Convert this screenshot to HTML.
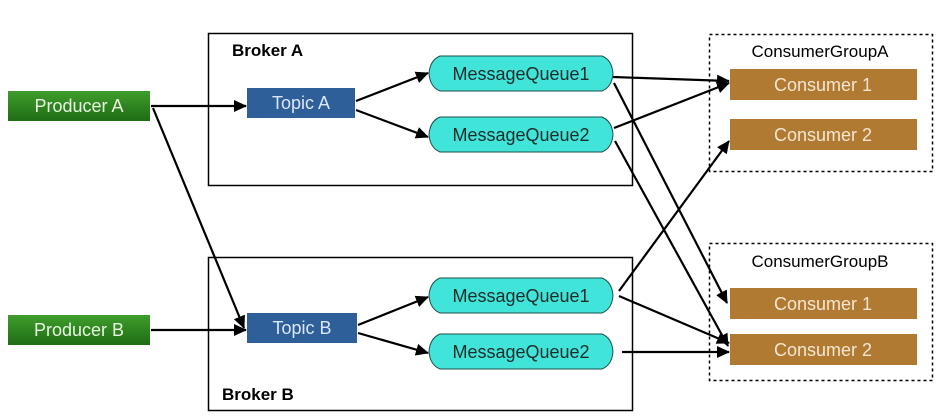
<!DOCTYPE html>
<html><head><meta charset="utf-8"><style>
html,body{margin:0;padding:0;background:#fff;}
svg{display:block;font-family:"Liberation Sans",sans-serif;}
</style></head><body>
<svg width="940" height="420" viewBox="0 0 940 420" xmlns="http://www.w3.org/2000/svg">
<defs>
<marker id="a" markerWidth="13" markerHeight="12" refX="12" refY="6" orient="auto" markerUnits="userSpaceOnUse">
<path d="M0,0 L13,6 L0,12 z" fill="#000"/></marker>
<linearGradient id="g" x1="0" y1="0" x2="0" y2="1"><stop offset="0" stop-color="#3f9e2c"/><stop offset="1" stop-color="#1f6c15"/></linearGradient>
</defs>
<rect x="208.5" y="33.5" width="424" height="152" fill="none" stroke="#000" stroke-width="1.5"/>
<rect x="208.5" y="257.5" width="424" height="153" fill="none" stroke="#000" stroke-width="1.5"/>
<text x="232" y="56" font-size="17" font-weight="bold">Broker A</text>
<text x="222" y="400" font-size="17" font-weight="bold">Broker B</text>
<rect x="709.5" y="34.5" width="223" height="137" fill="none" stroke="#000" stroke-width="1.5" stroke-dasharray="3,3"/>
<rect x="709.5" y="243.5" width="223" height="137" fill="none" stroke="#000" stroke-width="1.5" stroke-dasharray="3,3"/>
<text x="820" y="57" font-size="17" text-anchor="middle">ConsumerGroupA</text>
<text x="820" y="267" font-size="17" text-anchor="middle">ConsumerGroupB</text>
<rect x="8" y="91" width="142" height="30" fill="url(#g)"/>
<text x="79" y="112" font-size="18" fill="#e8f5e0" text-anchor="middle">Producer A</text>
<rect x="8" y="315" width="142" height="30" fill="url(#g)"/>
<text x="79" y="336" font-size="18" fill="#e8f5e0" text-anchor="middle">Producer B</text>
<rect x="247" y="88" width="108" height="30" fill="#2f5f98"/>
<text x="301" y="109" font-size="18" fill="#dbe6f5" text-anchor="middle">Topic A</text>
<rect x="247" y="313" width="110" height="30" fill="#2f5f98"/>
<text x="302" y="334" font-size="18" fill="#dbe6f5" text-anchor="middle">Topic B</text>
<g fill="#40e4d8" stroke="#1f4f4a" stroke-width="1">
<path d="M440,56 H602 Q612,60 613,73.5 Q612,87 602,91 H440 Q430,87 429,73.5 Q430,60 440,56 Z"/>
<path d="M440,117 H602 Q612,121 613,134.5 Q612,148 602,152 H440 Q430,148 429,134.5 Q430,121 440,117 Z"/>
<path d="M440,278 H602 Q612,282 613,295.5 Q612,309 602,313 H440 Q430,309 429,295.5 Q430,282 440,278 Z"/>
<path d="M440,334 H602 Q612,338 613,351.5 Q612,365 602,369 H440 Q430,365 429,351.5 Q430,338 440,334 Z"/>
</g>
<g font-size="18" fill="#1c2b2a" text-anchor="middle">
<text x="521" y="80">MessageQueue1</text>
<text x="521" y="141">MessageQueue2</text>
<text x="521" y="302">MessageQueue1</text>
<text x="521" y="358">MessageQueue2</text>
</g>
<g fill="#b07a32">
<rect x="730" y="69" width="187" height="31"/>
<rect x="730" y="119" width="187" height="31"/>
<rect x="730" y="288" width="187" height="31"/>
<rect x="730" y="334" width="187" height="31"/>
</g>
<g font-size="18" fill="#f3e6d0" text-anchor="middle">
<text x="823" y="91">Consumer 1</text>
<text x="823" y="141">Consumer 2</text>
<text x="823" y="310">Consumer 1</text>
<text x="823" y="356">Consumer 2</text>
</g>
<g stroke="#000" stroke-width="2.2" fill="none" marker-end="url(#a)">
<line x1="151" y1="106" x2="246" y2="106"/>
<line x1="153" y1="108" x2="244" y2="328"/>
<line x1="151" y1="330" x2="246" y2="330"/>
<line x1="356" y1="101" x2="428" y2="73"/>
<line x1="356" y1="110" x2="428" y2="137"/>
<line x1="358" y1="325" x2="428" y2="297"/>
<line x1="358" y1="333" x2="428" y2="353"/>
<line x1="613" y1="77" x2="729" y2="81"/>
<line x1="614" y1="83" x2="727" y2="303"/>
<line x1="614" y1="128" x2="729" y2="83"/>
<line x1="615" y1="141" x2="728" y2="346"/>
<line x1="619" y1="291" x2="729" y2="141"/>
<line x1="619" y1="296" x2="729" y2="343"/>
<line x1="622" y1="352" x2="729" y2="352"/>
</g>
</svg>
</body></html>
